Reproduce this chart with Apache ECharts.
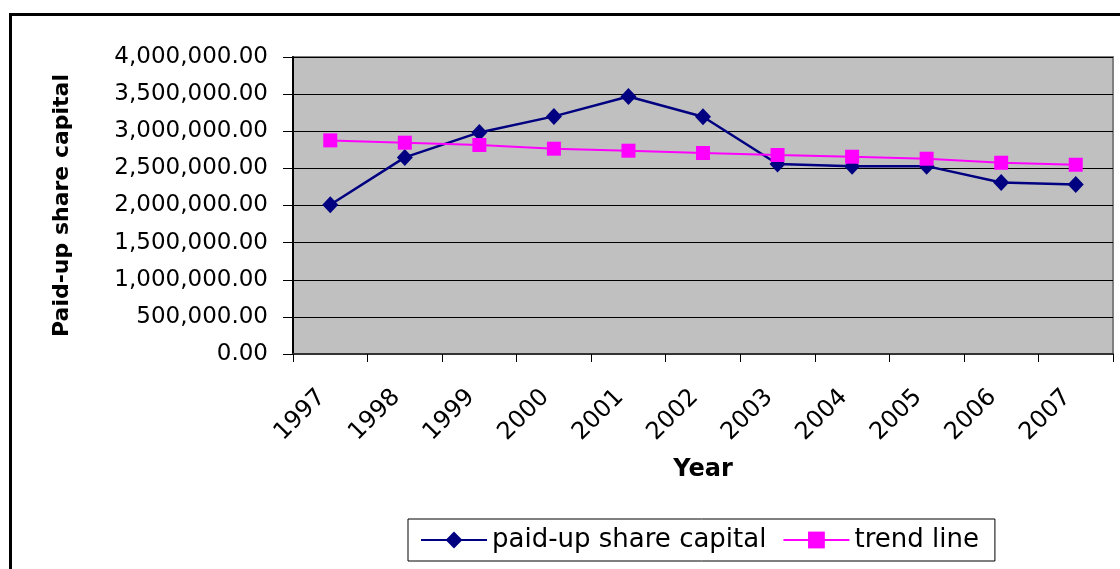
<!DOCTYPE html>
<html>
<head>
<meta charset="utf-8">
<script src="https://cdn.jsdelivr.net/npm/echarts@6/dist/echarts.min.js"></script>
<style>
  html, body { margin: 0; padding: 0; background: #fff; overflow: hidden; }
  #chart { width: 1120px; height: 569px; }
</style>
</head>
<body>
<div id="chart"></div>
<script>
const years = ['1997', '1998', '1999', '2000', '2001', '2002', '2003', '2004', '2005', '2006', '2007'];
const paidUpCapital = [2010000, 2648000, 2984000, 3200000, 3469000, 3196000, 2559000, 2527000, 2530000, 2311000, 2284000];
const trendLine = [2877000, 2846000, 2815000, 2765000, 2738000, 2707000, 2680000, 2657000, 2630000, 2576000, 2549000];
const yTicks = [0, 500000, 1000000, 1500000, 2000000, 2500000, 3000000, 3500000, 4000000];

const font = 'DejaVu Sans';

const myChart = echarts.init(document.getElementById('chart'), null, { renderer: 'canvas' });
myChart.setOption({
  animation: false,
  backgroundColor: '#fff',
  graphic: [
    {
      type: 'rect',
      shape: { x: 10.5, y: 14.5, width: 2000, height: 2000 },
      style: { fill: 'none', stroke: '#000', lineWidth: 3 },
      silent: true
    }
  ],
  grid: {
    left: 293,
    right: 7,
    top: 57,
    bottom: 215,
    show: true,
    backgroundColor: '#C0C0C0',
    borderColor: '#808080',
    borderWidth: 2
  },
  legend: {
    left: 408,
    top: 519,
    padding: [8, 16, 8, 12],
    borderColor: '#000',
    borderWidth: 1,
    itemWidth: 66,
    itemHeight: 21,
    itemGap: 16,
    lineStyle: { width: 2 },
    textStyle: { fontFamily: font, fontSize: 26, color: '#000' },
    data: ['paid-up share capital', 'trend line']
  },
  xAxis: {
    type: 'category',
    data: years,
    boundaryGap: true,
    name: 'Year',
    nameLocation: 'middle',
    nameGap: 104,
    nameTextStyle: { fontFamily: font, fontSize: 24, fontWeight: 'bold', color: '#000', verticalAlign: 'top' },
    axisLine: { lineStyle: { color: '#333', width: 2 } },
    axisTick: { show: true, length: 8, lineStyle: { color: '#000' } },
    axisLabel: {
      rotate: 45,
      margin: 31,
      padding: [0, 12, 0, 0],
      fontFamily: font,
      fontSize: 24,
      color: '#000'
    }
  },
  yAxis: {
    type: 'value',
    min: yTicks[0],
    max: yTicks[yTicks.length - 1],
    interval: yTicks[1] - yTicks[0],
    name: 'Paid-up share capital',
    nameLocation: 'middle',
    nameGap: 220,
    nameTextStyle: { fontFamily: font, fontSize: 22, fontWeight: 'bold', color: '#000' },
    axisLine: { show: true, lineStyle: { color: '#000', width: 2 } },
    axisTick: { show: true, length: 10, lineStyle: { color: '#000' } },
    splitLine: { show: true, lineStyle: { color: '#000', width: 1 } },
    axisLabel: {
      margin: 25,
      fontFamily: font,
      fontSize: 23,
      color: '#000',
      formatter: v => v.toLocaleString('en-US', { minimumFractionDigits: 2, maximumFractionDigits: 2 })
    }
  },
  series: [
    {
      name: 'paid-up share capital',
      type: 'line',
      data: paidUpCapital,
      symbol: 'diamond',
      symbolSize: [16, 17],
      lineStyle: { color: '#000080', width: 2.5 },
      itemStyle: { color: '#000080' }
    },
    {
      name: 'trend line',
      type: 'line',
      data: trendLine,
      symbol: 'rect',
      symbolSize: 14,
      lineStyle: { color: '#FF00FF', width: 2 },
      itemStyle: { color: '#FF00FF' }
    }
  ]
});
</script>
</body>
</html>
